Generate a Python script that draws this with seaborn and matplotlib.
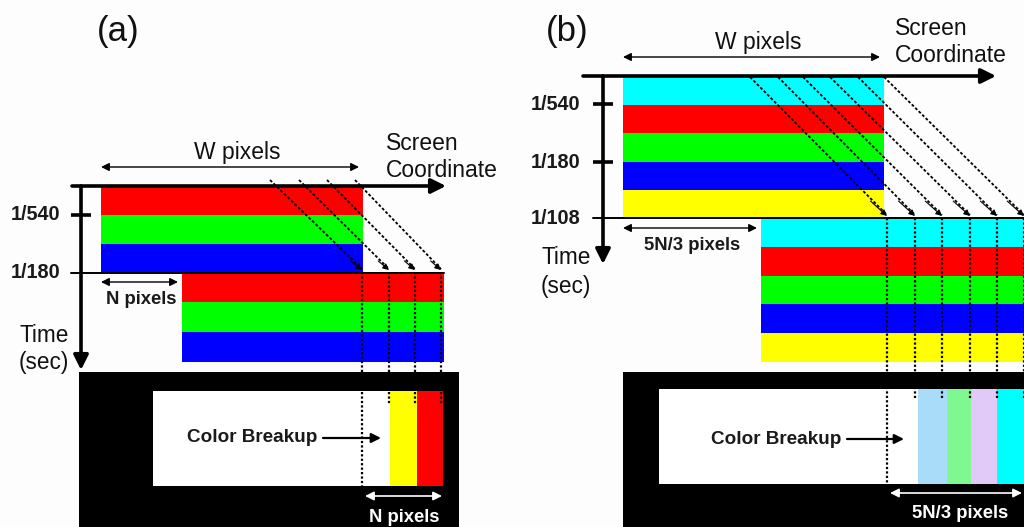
import matplotlib
matplotlib.use("Agg")
import matplotlib.pyplot as plt
import seaborn as sns

# ---------------- data ----------------
panel_labels = ["(a)", "(b)"]
bands_a = ["#ff0000", "#00ff00", "#0000ff"]
bands_b = ["#00ffff", "#ff0000", "#00ff00", "#0000ff", "#ffff00"]
breakup_a = ["#ffff00", "#ff0000"]
breakup_b = ["#a8dcf8", "#80f890", "#e2caf8", "#00ffff"]
ticks_a = ["1/540", "1/180"]
ticks_b = ["1/540", "1/180", "1/108"]
shift_a = "N pixels"
shift_b = "5N/3 pixels"
width_label = "W pixels"
axis_label = "Screen\nCoordinate"
time_label = ["Time", "(sec)"]
breakup_label = "Color Breakup"

sns.set_theme(style="white")
plt.rcParams["font.family"] = ["Liberation Sans", "DejaVu Sans"]

fig = plt.figure(figsize=(10.24, 5.27), dpi=100)
ax = fig.add_axes([0, 0, 1, 1])
ax.set_xlim(0, 1024)
ax.set_ylim(527, 0)
ax.axis("off")
fig.patch.set_facecolor("#fdfdfd")

K = "black"


def arrow(x0, y0, x1, y1, style="-|>", lw=1.0, ms=10, color=K, z=5):
    ax.annotate("", xy=(x1, y1), xytext=(x0, y0),
                arrowprops=dict(arrowstyle=style, lw=lw, color=color,
                                mutation_scale=ms, shrinkA=0, shrinkB=0),
                zorder=z)


def bands(x0, x1, y0, y1, colors):
    h = (y1 - y0) / len(colors)
    ax.barh([y0 + (i + 0.5) * h for i in range(len(colors))], x1 - x0,
            left=x0, height=h, color=colors, linewidth=0, zorder=2)


def panel(P):
    # label
    ax.text(P["lab_x"], P["lab_y"], P["label"], fontsize=25, ha="center",
            va="center", color="#111")
    # blocks
    bands(P["bx0"], P["bx1"], P["by0"], P["by1"], P["bands"])
    bands(P["b2x0"], P["b2x1"], P["by1"], P["b2y1"], P["bands"])
    # black frame & white box
    ax.barh((P["fy0"] + 527) / 2, P["fx1"] - P["fx0"], left=P["fx0"],
            height=527 - P["fy0"], color="black", linewidth=0, zorder=1)
    ax.barh((P["wy0"] + P["wy1"]) / 2, P["wx1"] - P["wx0"], left=P["wx0"],
            height=P["wy1"] - P["wy0"], color="white", linewidth=0, zorder=1.5)
    sx = P["sx"]
    for i, c in enumerate(P["breakup"]):
        ax.barh((P["wy0"] + P["wy1"]) / 2, sx[i + 1] - sx[i], left=sx[i],
                height=P["wy1"] - P["wy0"], color=c, linewidth=0, zorder=1.6)
    # axes
    arrow(P["ax_x0"], P["ax_y"], P["ax_x1"], P["ax_y"], lw=2.6, ms=22)
    arrow(P["ay_x"], P["ax_y"], P["ay_x"], P["ay_y1"], lw=2.6, ms=22)
    # ticks
    for t, ty in zip(P["ticks"][:-1], P["tick_y"][:-1]):
        ax.plot([P["ay_x"] - 10, P["ay_x"] + 10], [ty, ty], color=K, lw=2.6,
                solid_capstyle="butt", zorder=6)
        ax.text(P["tl_x"], ty, t, fontsize=14.3, fontweight="bold",
                ha="center", va="center", color="#1a1a1a")
    ty = P["tick_y"][-1]
    ax.plot([P["ay_x"] - 10, P["line_x1"]], [ty, ty], color=K, lw=1.4, zorder=6)
    ax.text(P["tl_x"], ty, P["ticks"][-1], fontsize=14.3, fontweight="bold",
            ha="center", va="center", color="#1a1a1a")
    ax.text(P["time_x"], P["time_y"][0], time_label[0], fontsize=16.3,
            ha="center", va="center", color="#111")
    ax.text(P["time_x"], P["time_y"][1], time_label[1], fontsize=16.3,
            ha="center", va="center", color="#111")
    # W pixels
    arrow(P["bx0"], P["w_y"], P["bx1"] - 4, P["w_y"], style="<|-|>", lw=1.0, ms=12)
    ax.text((P["bx0"] + P["bx1"]) / 2 + 5, P["w_y"] - 15, width_label,
            fontsize=16.5, ha="center", va="center", color="#111")
    ax.text(P["sc_x"], P["sc_y"], axis_label, fontsize=16.5, ha="left",
            va="center", linespacing=1.25, color="#111")
    # shift arrow
    arrow(P["bx0"], P["n_y"], P["b2x0"] - 4, P["n_y"], style="<|-|>", lw=1.0, ms=12)
    ax.text((P["bx0"] + P["b2x0"]) / 2, P["n_y"] + 17, P["shift"],
            fontsize=13.3, fontweight="bold", ha="center", va="center",
            color="#1a1a1a")
    # dashed diagonals
    for (x0, y0), (x1, y1) in zip(P["d_start"], P["d_end"]):
        ax.plot([x0, x1], [y0, y1 - 3], color=K, lw=1.3, ls=(0, (1.6, 1.1)),
                zorder=7)
        arrow(x1 - 0.12 * (x1 - x0), y1 - 0.12 * (y1 - y0), x1, y1 - 2,
              lw=0.8, ms=9, z=8)
    # dotted verticals
    for i, (x1, _) in enumerate(P["d_end"]):
        yb = P["wy1"] if i == 0 else P["stub_y"]
        ax.plot([x1, x1], [P["by1"], yb], color=K, lw=1.6, ls=(0, (1, 1)),
                zorder=7)
    # color breakup text & arrow
    ax.text(P["cb_x"], P["cb_y"], breakup_label, fontsize=13.6,
            fontweight="bold", ha="center", va="center", color="#1a1a1a")
    arrow(P["cba_x0"], P["cb_y"], P["cba_x1"], P["cb_y"], lw=1.6, ms=14)
    # lower white arrow
    arrow(P["d_end"][0][0] + 3, P["low_y"], P["low_x1"], P["low_y"],
          style="<|-|>", lw=1.2, ms=13, color="white")
    ax.text(P["lowt_x"], P["low_y"] + 21, P["shift"], fontsize=13.3,
            fontweight="bold", ha="center", va="center", color="white")


PA = dict(label=panel_labels[0], lab_x=118, lab_y=31,
          bands=bands_a, bx0=101, bx1=363, by0=187, by1=272, b2x0=182, b2x1=444,
          b2y1=362, fx0=79, fx1=459, fy0=372, wx0=153, wx1=443, wy0=391, wy1=486,
          breakup=breakup_a, sx=[390, 417, 443],
          ax_x0=72, ax_x1=446, ax_y=186, ay_x=81, ay_y1=370,
          ticks=ticks_a, tick_y=[215, 273], tl_x=36, line_x1=444,
          time_x=44, time_y=[335, 362],
          w_y=167, sc_x=386, sc_y=157, n_y=282, shift=shift_a,
          d_start=[(270, 180), (299, 180), (327, 180), (355, 180)],
          d_end=[(362, 272), (389, 272), (415, 272), (441, 272)],
          stub_y=405, cb_x=252, cb_y=438, cba_x0=323, cba_x1=381,
          low_y=496, low_x1=442, lowt_x=404)

PB = dict(label=panel_labels[1], lab_x=567, lab_y=32,
          bands=bands_b, bx0=623, bx1=884, by0=77, by1=218, b2x0=761, b2x1=1026,
          b2y1=362, fx0=623, fx1=1026, fy0=372, wx0=659, wx1=1026, wy0=389, wy1=484,
          breakup=breakup_b, sx=[918, 947, 971, 997, 1026],
          ax_x0=583, ax_x1=996, ax_y=76, ay_x=603, ay_y1=264,
          ticks=ticks_b, tick_y=[104, 162, 218], tl_x=556, line_x1=1026,
          time_x=566, time_y=[258, 287],
          w_y=57, sc_x=895, sc_y=42, n_y=228, shift=shift_b,
          d_start=[(750, 77), (778, 77), (803, 77), (830, 77), (858, 77), (884, 77)],
          d_end=[(887, 218), (915, 218), (942, 218), (970, 218), (997, 218), (1024, 218)],
          stub_y=398, cb_x=776, cb_y=439, cba_x0=847, cba_x1=904,
          low_y=493, low_x1=1022, lowt_x=960)

panel(PA)
panel(PB)

fig.savefig("out.png", dpi=100, facecolor=fig.get_facecolor())
